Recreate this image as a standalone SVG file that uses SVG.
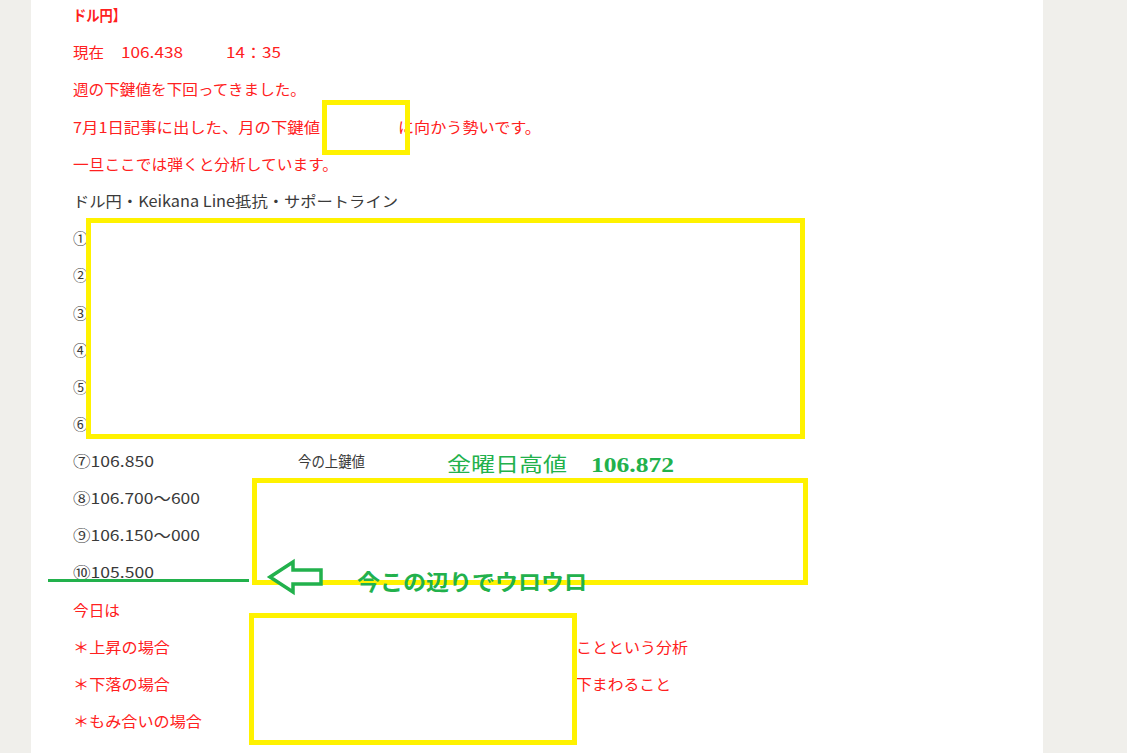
<svg xmlns="http://www.w3.org/2000/svg" width="1127" height="753" viewBox="0 0 1127 753">
<style>
.t{font-family:"Noto Sans CJK JP","Liberation Sans",sans-serif;font-size:15px}
.r{fill:#ff2020}
.g{fill:#3a3a3a}
.gr{fill:#22b14c}
.box{fill:none;stroke:#fff200;stroke-width:5}
</style>
<rect x="0" y="0" width="1127" height="753" fill="#f0efeb"/>
<rect x="31" y="0" width="1012" height="753" fill="#ffffff"/>

<g id="intro">
<text class="t r" x="73" y="21" font-weight="bold" textLength="53" lengthAdjust="spacingAndGlyphs">ドル円】</text>
<text class="t r" x="73" y="58" textLength="31" lengthAdjust="spacingAndGlyphs">現在</text>
<text class="t r" x="121" y="58" textLength="62" lengthAdjust="spacingAndGlyphs">106.438</text>
<text class="t r" x="226" y="58" textLength="55" lengthAdjust="spacingAndGlyphs">14：35</text>
<text class="t r" x="73" y="95" textLength="233" lengthAdjust="spacingAndGlyphs">週の下鍵値を下回ってきました。</text>
<text class="t r" x="73" y="133" textLength="247" lengthAdjust="spacingAndGlyphs">7月1日記事に出した、月の下鍵値</text>
<text class="t r" x="398" y="133" textLength="143" lengthAdjust="spacingAndGlyphs">に向かう勢いです。</text>
<text class="t r" x="73" y="170" textLength="265" lengthAdjust="spacingAndGlyphs">一旦ここでは弾くと分析しています。</text>
</g>

<g id="lines-list">
<text class="t g" x="73" y="207" textLength="325" lengthAdjust="spacingAndGlyphs">ドル円・Keikana Line抵抗・サポートライン</text>
<text class="t g" x="73" y="244">①</text>
<text class="t g" x="73" y="281">②</text>
<text class="t g" x="73" y="319">③</text>
<text class="t g" x="73" y="356">④</text>
<text class="t g" x="73" y="393">⑤</text>
<text class="t g" x="73" y="430">⑥</text>
<text class="t g" x="73" y="467" textLength="81" lengthAdjust="spacingAndGlyphs">⑦106.850</text>
<text class="t g" x="298" y="467" textLength="67" lengthAdjust="spacingAndGlyphs">今の上鍵値</text>
<text class="t g" x="73" y="504" textLength="127" lengthAdjust="spacingAndGlyphs">⑧106.700～600</text>
<text class="t g" x="73" y="541" textLength="127" lengthAdjust="spacingAndGlyphs">⑨106.150～000</text>
<text class="t g" x="73" y="578" textLength="81" lengthAdjust="spacingAndGlyphs">⑩105.500</text>
</g>

<g id="friday-high">
<text class="gr" x="447" y="472" font-family="'Noto Sans CJK JP',sans-serif" font-size="20" textLength="120" lengthAdjust="spacingAndGlyphs">金曜日高値</text>
<text class="gr" x="591" y="472" font-family="'Liberation Serif',serif" font-weight="bold" font-size="21" textLength="83" lengthAdjust="spacingAndGlyphs">106.872</text>
</g>

<g id="today">
<text class="t r" x="73" y="616" textLength="47" lengthAdjust="spacingAndGlyphs">今日は</text>
<text class="t r" x="73" y="653" textLength="97" lengthAdjust="spacingAndGlyphs">＊上昇の場合</text>
<text class="t r" x="576" y="653" textLength="112" lengthAdjust="spacingAndGlyphs">ことという分析</text>
<text class="t r" x="73" y="690" textLength="97" lengthAdjust="spacingAndGlyphs">＊下落の場合</text>
<text class="t r" x="576" y="690" textLength="95" lengthAdjust="spacingAndGlyphs">下まわること</text>
<text class="t r" x="73" y="727" textLength="129" lengthAdjust="spacingAndGlyphs">＊もみ合いの場合</text>
</g>

<g id="boxes">
<rect id="box-month" class="box" x="324.5" y="102.5" width="83" height="50" fill="#ffffff"/>
<rect id="box-lines" class="box" x="88.5" y="220.5" width="714" height="216"/>
<rect id="box-notes" class="box" x="254.5" y="480.5" width="551" height="102"/>
<rect id="box-today" class="box" x="251.5" y="615.5" width="323" height="127"/>
</g>

<g id="connectors">
<line x1="48" y1="580.5" x2="249" y2="580.5" stroke="#22b14c" stroke-width="3"/>
<polygon points="270,577 293,562 293,570 321,570 321,584 293,584 293,592" fill="#ffffff" stroke="#22b14c" stroke-width="3.5" stroke-linejoin="miter"/>
</g>

<g id="label-now">
<text class="gr" x="357" y="590" font-family="'Noto Sans CJK JP',sans-serif" font-weight="bold" font-size="22" textLength="230" lengthAdjust="spacingAndGlyphs">今この辺りでウロウロ</text>
</g>
</svg>
